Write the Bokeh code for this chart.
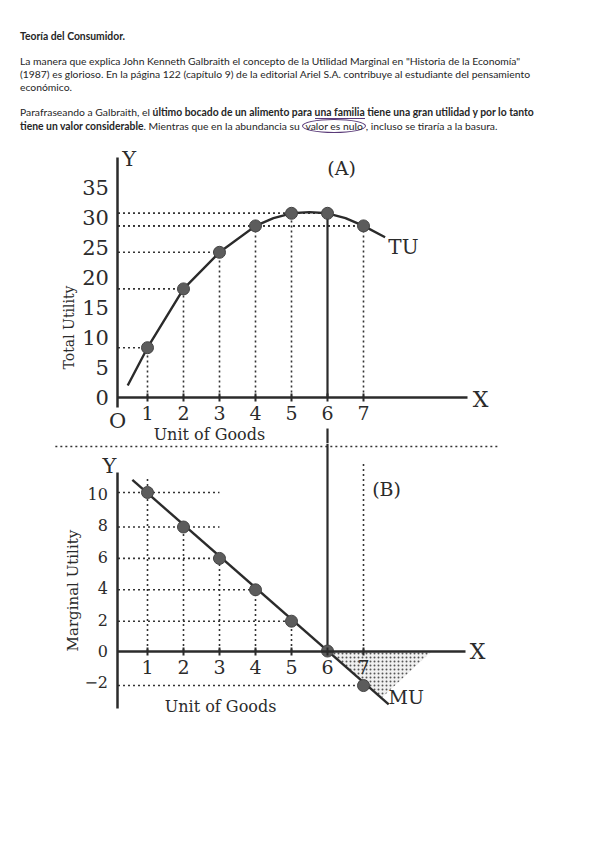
from math import pi
from bokeh.plotting import figure
from bokeh.models import Div, Label, Range1d, FixedTicker
from bokeh.layouts import column
from bokeh.embed import file_html
from bokeh.resources import INLINE

# ---------------- data ----------------
units = [1, 2, 3, 4, 5, 6, 7]
x_tick_labels = ["1", "2", "3", "4", "5", "6", "7"]
total_utility = [8.3, 18.1, 24.2, 28.6, 30.7, 30.7, 28.6]
marginal_utility = [10.1, 7.9, 5.9, 3.9, 1.9, 0.0, -2.2]

tu_curve_x = [0.45, 1, 2, 3, 4, 4.5, 5, 5.5, 6, 6.5, 7, 7.6]
tu_curve_y = [2.0, 8.3, 18.1, 24.2, 28.6, 29.9, 30.7, 30.9, 30.7, 29.9, 28.6, 26.7]
mu_line_x = [0.58, 7.7]
mu_line_y = [10.9, -3.4]

tu_ticks = [0, 5, 10, 15, 20, 25, 30, 35]
mu_ticks = [-2, 0, 2, 4, 6, 8, 10]
mu_tick_labels = ["\u22122", "0", "2", "4", "6", "8", "10"]

tu_guide_to = [1, 2, 3, 7, 6, 6, 7]          # x where each horizontal guide of (A) ends
mu_guide_to = [3, 3, 3, 4, 5, None, 7]       # x where each horizontal guide of (B) ends
mu_vguide_top = [11.0, 7.9, 5.9, 3.9, 1.9, None, 12.0]

neg_area_x = [6.0, 8.9, 7.5]
neg_area_y = [0.0, 0.0, -3.0]

SERIF = "DejaVu Serif"
INK = "#2b2b2b"
AXIS_X0 = 0.18
W = 596
X_RANGE = (-3.0833, 13.4722)

# ---------------- text ----------------
html = """
<div style="position:relative;width:596px;height:145px;font-family:Lato;font-size:10.35px;color:#262626;white-space:nowrap;line-height:13px;">
<div style="position:absolute;left:20px;top:30px;font-weight:bold;">Teoría del Consumidor.</div>
<div style="position:absolute;left:20px;top:55px;">La manera que explica John Kenneth Galbraith el concepto de la Utilidad Marginal en "Historia de la Economía"</div>
<div style="position:absolute;left:20px;top:68px;">(1987) es glorioso. En la página 122 (capítulo 9) de la editorial Ariel S.A. contribuye al estudiante del pensamiento</div>
<div style="position:absolute;left:20px;top:81px;">económico.</div>
<div style="position:absolute;left:20px;top:106px;">Parafraseando a Galbraith, el <b>último bocado de un alimento para <span style="border-bottom:1px solid #5a3a78;">una familia</span> tiene una gran utilidad y por lo tanto</b></div>
<div style="position:absolute;left:20px;top:120px;"><b>tiene un valor considerable</b>. Mientras que en la abundancia su <span style="border:1px solid #5a3a78;border-radius:50%;padding:0 2px;">valor es nulo</span>, incluso se tiraría a la basura.</div>
</div>
"""
div = Div(text=html, width=W, height=145, margin=0)


def base_fig(height, y0, y1):
    p = figure(width=W, height=height, x_range=Range1d(*X_RANGE),
               y_range=Range1d(y0, y1), output_backend="svg", toolbar_location=None,
               min_border=0, min_border_left=0, min_border_right=0,
               min_border_top=0, min_border_bottom=0)
    p.outline_line_color = None
    p.xgrid.visible = False
    p.ygrid.visible = False
    p.background_fill_color = "white"
    p.border_fill_color = "white"
    for ax in (p.xaxis[0], p.yaxis[0]):
        ax.axis_line_color = INK
        ax.axis_line_width = 2.5
        ax.minor_tick_line_color = None
        ax.major_label_text_font = SERIF
        ax.major_label_text_color = INK
    p.xaxis.fixed_location = 0
    p.yaxis.fixed_location = AXIS_X0
    p.xaxis.ticker = FixedTicker(ticks=units)
    p.xaxis.major_label_overrides = dict(zip(units, x_tick_labels))
    p.xaxis.major_tick_in = 4
    p.xaxis.major_tick_out = 4
    p.xaxis.major_tick_line_color = INK
    p.xaxis.major_tick_line_width = 2
    p.xaxis.major_label_standoff = 5
    p.xaxis.major_label_text_font_size = "19px"
    p.yaxis.major_tick_in = 0
    p.yaxis.major_tick_out = 0
    p.yaxis.major_tick_line_color = None
    p.yaxis.major_label_standoff = 9
    return p


def lab(p, x, y, text, size, angle=0, align="center"):
    p.add_layout(Label(x=x, y=y, text=text, text_font=SERIF, text_font_size=size,
                       text_color=INK, text_align=align, text_baseline="middle", angle=angle))


DOT = dict(line_dash="2 3", line_color="#333333", line_width=1.6)

# ---------------- chart (A) ----------------
A_Y = (-7.667, 42.0)
pA = base_fig(298, *A_Y)
pA.xaxis.bounds = (AXIS_X0, 9.9)
pA.yaxis.bounds = (-1.7, 40.0)
pA.yaxis.ticker = FixedTicker(ticks=tu_ticks)
pA.yaxis.major_label_text_font_size = "21px"

pA.segment(x0=[AXIS_X0] * len(units), y0=total_utility, x1=tu_guide_to, y1=total_utility, **DOT)
vx = [u for u in units if u != 6]
vy = [t for u, t in zip(units, total_utility) if u != 6]
pA.segment(x0=vx, y0=[0] * len(vx), x1=vx, y1=vy, **DOT)
tu6 = total_utility[units.index(6)]
pA.segment(x0=[6, 6], y0=[0, -5.17], x1=[6, 6], y1=[tu6, A_Y[0]], line_color=INK, line_width=2.2)
pA.line(tu_curve_x, tu_curve_y, line_color=INK, line_width=2.4, line_join="round")
pA.scatter(units, total_utility, size=12, fill_color="#5c5c5c", line_color="#444444")

lab(pA, 0.30, 39.8, "Y", "21px", align="left")
lab(pA, 6.39, 38.3, "(A)", "19px")
lab(pA, 8.11, 25.0, "TU", "20px")
lab(pA, 10.25, -0.3, "X", "22px")
lab(pA, 0.17, -4.0, "O", "21px")
lab(pA, 2.72, -6.15, "Unit of Goods", "16px")
lab(pA, -1.19, 11.67, "Total Utility", "14px", angle=pi / 2)

# ---------------- chart (B) ----------------
B_Y = (-12.07, 13.22)
pB = base_fig(397, *B_Y)
pB.xaxis.bounds = (AXIS_X0, 9.83)
pB.yaxis.bounds = (-3.66, 11.37)
pB.yaxis.ticker = FixedTicker(ticks=mu_ticks)
pB.yaxis.major_label_overrides = dict(zip(mu_ticks, mu_tick_labels))
pB.yaxis.major_label_text_font_size = "16px"
pB.yaxis.major_label_standoff = 10

pB.patch(neg_area_x, neg_area_y, fill_color="#e2e2e2", fill_alpha=0.5, line_color=None,
         hatch_pattern="dot", hatch_color="#555555", hatch_scale=4, hatch_weight=1)
pB.segment(x0=[-1.56], y0=[13.03], x1=[10.8], y1=[13.03], **DOT)

hx0, hy, hx1 = [], [], []
for u, m, to in zip(units, marginal_utility, mu_guide_to):
    if to is not None:
        hx0.append(AXIS_X0); hy.append(m); hx1.append(to)
pB.segment(x0=hx0, y0=hy, x1=hx1, y1=hy, **DOT)
vx, vt = [], []
for u, top in zip(units, mu_vguide_top):
    if top is not None:
        vx.append(u); vt.append(top)
pB.segment(x0=vx, y0=[0] * len(vx), x1=vx, y1=vt, **DOT)
pB.segment(x0=[6], y0=[B_Y[1]], x1=[6], y1=[0], line_color=INK, line_width=2.2)
pB.line(mu_line_x, mu_line_y, line_color=INK, line_width=2.4)
pB.scatter(units, marginal_utility, size=12, fill_color="#5c5c5c", line_color="#444444")

lab(pB, -0.06, 11.8, "Y", "21px")
lab(pB, 7.64, 10.29, "(B)", "19px")
lab(pB, 8.19, -2.9, "MU", "19px")
lab(pB, 10.17, -0.03, "X", "22px")
lab(pB, 3.03, -3.54, "Unit of Goods", "16px")
lab(pB, -1.06, 3.85, "Marginal Utility", "15px", angle=pi / 2)

layout = column(div, pA, pB, spacing=0)
open("out.html", "w").write(file_html(layout, INLINE))
